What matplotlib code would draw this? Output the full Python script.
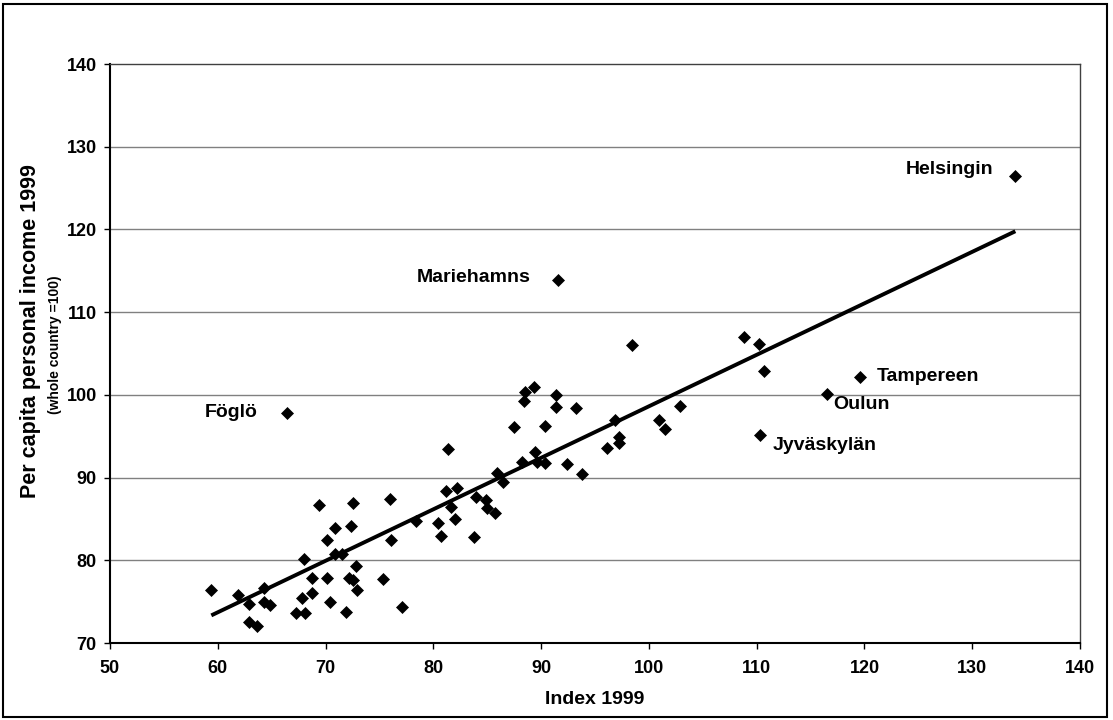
import matplotlib
matplotlib.use("Agg")
import matplotlib.pyplot as plt
import matplotlib.patches as mpatches
import numpy as np

# ── data ─────────────────────────────────────────────────────────────────────
index_1999 = [
    59.4, 61.9, 62.9, 62.9, 63.6, 64.3, 64.3, 64.8, 66.4, 67.3,
    68.1, 67.8, 68.7, 68.0, 68.7, 69.4, 70.1, 70.1, 70.4, 70.9,
    70.9, 71.5, 71.9, 72.2, 72.5, 72.4, 72.5, 72.8, 72.9, 75.3,
    76.0, 76.1, 77.1, 78.4, 80.4, 80.7, 81.2, 81.4, 81.6, 82.0,
    82.2, 83.8, 84.0, 84.9, 85.0, 85.7, 85.9, 86.5, 87.5, 88.2,
    88.4, 88.5, 89.3, 89.4, 89.6, 90.4, 90.4, 91.4, 91.4, 91.6,
    92.4, 93.2, 93.8, 96.1, 96.9, 97.2, 97.2, 98.4, 100.9, 101.5,
    102.9, 108.8, 110.2, 110.7, 110.3, 116.5, 119.6, 134.0,
]
income_1999 = [
    76.4, 75.8, 74.7, 72.5, 72.0, 76.7, 75.0, 74.6, 97.8, 73.6,
    73.6, 75.4, 76.0, 80.2, 77.9, 86.7, 82.5, 77.8, 74.9, 83.9,
    80.8, 80.8, 73.8, 77.9, 77.6, 84.1, 86.9, 79.3, 76.4, 77.7,
    87.4, 82.4, 74.4, 84.8, 84.5, 82.9, 88.4, 93.5, 86.4, 85.0,
    88.7, 82.8, 87.7, 87.3, 86.3, 85.7, 90.5, 89.5, 96.1, 91.9,
    99.2, 100.4, 100.9, 93.1, 91.9, 96.2, 91.8, 100.0, 98.5, 113.9,
    91.7, 98.4, 90.4, 93.6, 97.0, 94.9, 94.2, 106.0, 96.9, 95.9,
    98.6, 107.0, 106.2, 102.9, 95.2, 100.1, 102.1, 126.4,
]

# labelled regions: name, x, y
label_names = ["Helsingin", "Mariehamns", "Föglö", "Tampereen", "Oulun", "Jyväskylän"]
label_x = [134.0, 91.6, 66.4, 119.6, 116.5, 110.3]
label_y = [126.4, 113.9, 97.8, 102.1, 100.1, 95.2]
label_offsets = [(-16, 5), (-20, 1.5), (-21, 0.5), (12, 0.5), (5, -7.5), (9, -8)]
label_ha = ["right", "right", "right", "left", "left", "left"]

x_ticks = list(range(50, 141, 10))
y_ticks = list(range(70, 141, 10))

plt.rcParams.update({
    "font.family": ["Liberation Sans", "DejaVu Sans"],
    "font.weight": "bold",
    "font.size": 13,
})

fig = plt.figure(figsize=(11.13, 7.2), dpi=100)
ax = fig.add_axes([110 / 1113, 1 - 643 / 720, 970 / 1113, 579 / 720])

# horizontal grid
for yv in y_ticks[1:-1]:
    ax.axhline(yv, color="#808080", linewidth=1.0, zorder=1)

# trend line (linear fit, drawn over the data range)
xs = np.array(index_1999)
ys = np.array(income_1999)
slope, intercept = np.polyfit(xs, ys, 1)
tx = np.array([xs.min(), xs.max()])
ax.plot(tx, slope * tx + intercept, color="black", linewidth=2.8, zorder=3,
        solid_capstyle="butt")

ax.plot(xs, ys, linestyle="none", marker="D", markersize=6.3,
        color="black", markeredgewidth=0.5, zorder=4)

for name, lx, ly, off, ha in zip(label_names, label_x, label_y, label_offsets, label_ha):
    ax.annotate(name, xy=(lx, ly), xytext=off, textcoords="offset points",
                ha=ha, va="center", fontsize=14, fontweight="bold")

ax.set_xlim(50, 140)
ax.set_ylim(70, 140)
ax.set_xticks(x_ticks)
ax.set_yticks(y_ticks)
ax.tick_params(direction="out", length=4.5, width=1, labelsize=13)
ax.tick_params(axis="x", pad=8)
ax.tick_params(axis="y", pad=5)
for s in ["left", "bottom"]:
    ax.spines[s].set_linewidth(1.5)
    ax.spines[s].set_color("black")
for s in ["top", "right"]:
    ax.spines[s].set_linewidth(1.0)
    ax.spines[s].set_color("#404040")

ax.set_xlabel("Index 1999", fontsize=14, fontweight="bold", labelpad=10)
fig.text(31 / 1113, 1 - 331 / 720, "Per capita personal income 1999",
         rotation=90, ha="center", va="center", fontsize=15.5, fontweight="bold")
fig.text(55 / 1113, 1 - 345 / 720, "(whole country =100)",
         rotation=90, ha="center", va="center", fontsize=10, fontweight="bold")

# outer chart border
fig.patches.append(mpatches.Rectangle((3 / 1113, 3 / 720), 1104 / 1113, 713 / 720,
                                      transform=fig.transFigure, fill=False,
                                      edgecolor="black", linewidth=1.5))

fig.savefig("out.png", dpi=100)
